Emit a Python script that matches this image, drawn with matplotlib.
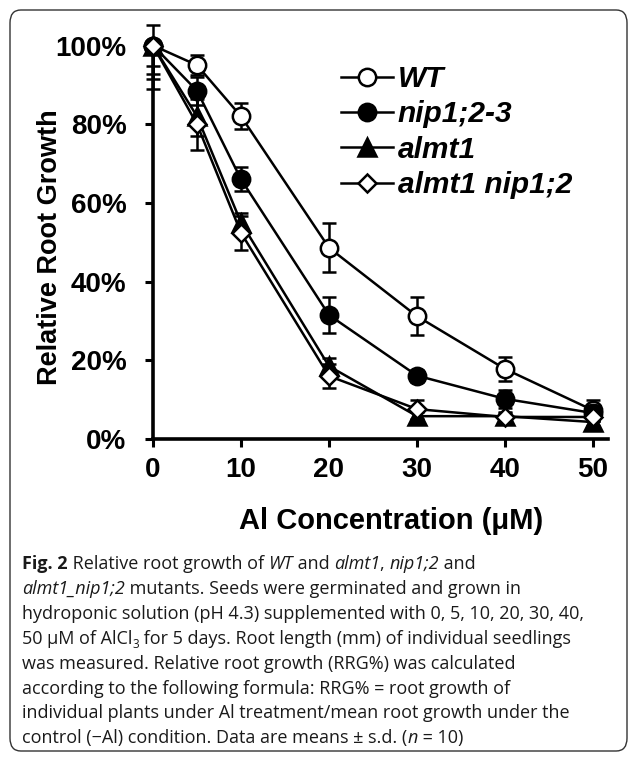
import matplotlib
matplotlib.use("Agg")
import matplotlib.pyplot as plt
from matplotlib.lines import Line2D
from matplotlib.patches import FancyBboxPatch
from matplotlib.font_manager import FontProperties

# Al concentrations (uM)
conc = [0, 5, 10, 20, 30, 40, 50]

# relative root growth (%)
wt = [100, 95, 82, 48.6, 31.2, 17.8, 7.3]
nip = [100, 88.5, 66, 31.5, 16.1, 10.2, 6.6]
almt1 = [100, 82, 55, 18.5, 5.8, 5.8, 4.3]
almt1_nip = [100, 80, 52.4, 16, 7.6, 5.6, 5.6]

# error bars (lower, upper)
wt_lo = [5.3, 2.5, 3.3, 6.2, 4.8, 3.0, 2.7]
wt_hi = [5.3, 2.5, 3.3, 6.2, 4.8, 3.0, 2.7]
nip_lo = [7.3, 3.5, 3.1, 4.5, 1.5, 2.3, 2.0]
nip_hi = [0, 3.5, 3.1, 4.5, 1.5, 2.3, 2.0]
almt1_lo = [8.4, 5.0, 2.5, 2.0, 1.0, 1.0, 1.0]
almt1_hi = [0, 5.0, 2.5, 2.0, 1.0, 1.0, 1.0]
almt1_nip_lo = [11.0, 6.5, 4.3, 3.0, 2.4, 1.0, 1.0]
almt1_nip_hi = [0, 6.5, 4.3, 3.0, 2.4, 1.0, 1.0]

labels = ['WT', 'nip1;2-3', 'almt1', 'almt1 nip1;2']
yticks = [0, 20, 40, 60, 80, 100]
xticks = [0, 10, 20, 30, 40, 50]

# caption, split in runs: r = regular, i = italic, b = bold, s = subscript
caption = [
    [("Fig. 2", 'b'), (" Relative root growth of ", 'r'), ("WT", 'i'),
     (" and ", 'r'), ("almt1", 'i'), (", ", 'r'), ("nip1;2", 'i'),
     (" and", 'r')],
    [("almt1_nip1;2", 'i'),
     (" mutants. Seeds were germinated and grown in", 'r')],
    [("hydroponic solution (pH 4.3) supplemented with 0, 5, 10, 20, 30, 40,",
      'r')],
    [("50 μM of AlCl", 'r'), ("3", 's'),
     (" for 5 days. Root length (mm) of individual seedlings", 'r')],
    [("was measured. Relative root growth (RRG%) was calculated", 'r')],
    [("according to the following formula: RRG% = root growth of", 'r')],
    [("individual plants under Al treatment/mean root growth under the", 'r')],
    [("control (\u2212Al) condition. Data are means \u00b1 s.d. (", 'r'),
     ("n", 'i'), (" = 10)", 'r')],
]

W, H = 636, 758


def fx(x):
    return x / W


def fy(y):
    return 1 - y / H


plt.rcParams['font.family'] = ['Liberation Sans', 'DejaVu Sans']

fig = plt.figure(figsize=(W / 100, H / 100), dpi=100)
renderer = fig.canvas.get_renderer()

# rounded frame around figure + caption
frame = FancyBboxPatch((fx(10), fy(751)), fx(617), 741 / H,
                       boxstyle="round,pad=0,rounding_size=0.017",
                       transform=fig.transFigure, fill=False,
                       edgecolor='#333333', linewidth=1.0)
fig.patches.append(frame)

x0_px, x50_px = 153, 593
y0_px, y100_px = 439, 45.5
ax = fig.add_axes([fx(x0_px), fy(y0_px), (608 - x0_px) / W,
                   (y0_px - y100_px) / H])

lw = 1.8
series = [
    (wt, wt_lo, wt_hi, 'o', 'white', 12.5),
    (nip, nip_lo, nip_hi, 'o', 'black', 12.5),
    (almt1, almt1_lo, almt1_hi, '^', 'black', 12.5),
    (almt1_nip, almt1_nip_lo, almt1_nip_hi, 'D', 'white', 9.5),
]
handles = []
for i, (vals, lo, hi, m, fc, ms) in enumerate(series):
    ax.errorbar(conc, vals, yerr=[lo, hi], fmt='-', marker=m, color='black',
                mfc=fc, mec='black', mew=lw, ms=ms, lw=lw, elinewidth=lw,
                capsize=5, capthick=lw, clip_on=False, zorder=3 + i)
    handles.append(Line2D([], [], color='black', lw=lw, marker=m, mfc=fc,
                          mec='black', mew=lw, ms=ms))

ax.set_xlim(0, (608 - x0_px) / ((x50_px - x0_px) / 50))
ax.set_ylim(0, 100)
for s in ['top', 'right']:
    ax.spines[s].set_visible(False)
for s in ['left', 'bottom']:
    ax.spines[s].set_linewidth(2.6)
ax.spines['left'].set_bounds(0, 100)

ax.set_yticks(yticks)
ax.set_yticklabels([f"{v}%" for v in yticks])
ax.set_xticks(xticks)
ax.tick_params(axis='both', direction='out', length=6, width=2.2,
               labelsize=20)
ax.tick_params(axis='y', pad=13)
ax.tick_params(axis='x', pad=7)
for t in ax.get_xticklabels() + ax.get_yticklabels():
    t.set_fontweight('bold')

leg = fig.legend(handles, labels, loc='upper left',
                 bbox_to_anchor=(fx(341), fy(65)), frameon=False,
                 prop={'family': 'Liberation Sans', 'weight': 'bold',
                       'style': 'italic', 'size': 21.5},
                 handlelength=1.75, handletextpad=0.15, labelspacing=0.25,
                 borderpad=0, borderaxespad=0)

fig.text(fx(50), fy(247), "Relative Root Growth", rotation=90,
         ha='center', va='center', fontsize=19.5, fontweight='bold')
fig.text(fx(391), fy(521), "Al Concentration (μM)", ha='center',
         va='center', fontsize=21, fontweight='bold')

# caption, drawn run by run
cap_size = 13
cap_fonts = {
    'r': FontProperties(family='Open Sans', size=cap_size),
    'i': FontProperties(family='Open Sans', style='italic', size=cap_size),
    'b': FontProperties(family='Open Sans', weight='bold', size=cap_size),
    's': FontProperties(family='Open Sans', size=cap_size * 0.65),
}


def run_width(text, fp):
    # measure with a bar appended so trailing spaces count
    w1, _, _ = renderer.get_text_width_height_descent(text + "|", fp, False)
    w2, _, _ = renderer.get_text_width_height_descent("|", fp, False)
    return w1 - w2


cap_y0 = 569
cap_dy = 24.9
for k, line in enumerate(caption):
    xpos = 22
    ybase = cap_y0 + k * cap_dy
    for text, style in line:
        fp = cap_fonts[style]
        yb = ybase + (4 if style == 's' else 0)
        fig.text(fx(xpos), fy(yb), text, ha='left', va='baseline',
                 fontproperties=fp, color='#1a1a1a')
        xpos += run_width(text, fp)

fig.savefig("out.png", dpi=100)
